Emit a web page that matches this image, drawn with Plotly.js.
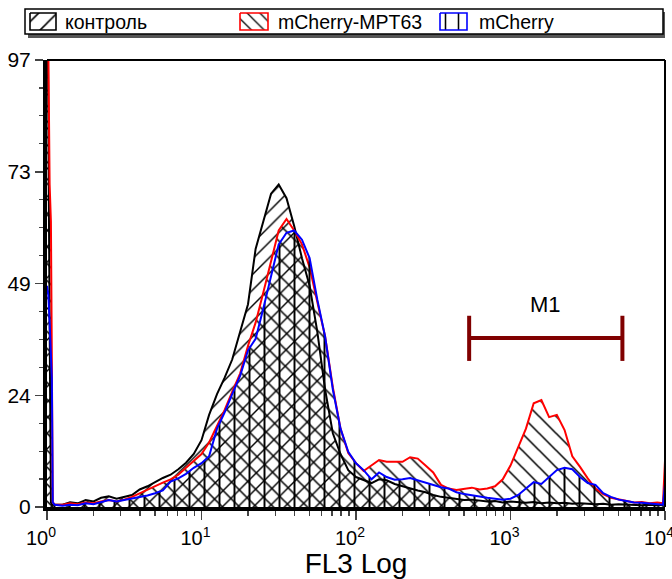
<!DOCTYPE html>
<html><head><meta charset="utf-8">
<script src="https://cdn.plot.ly/plotly-3.0.1.min.js"></script>
<style>html,body{margin:0;padding:0;background:#fff}#chart{width:672px;height:579px}</style>
</head><body><div id="chart"></div>
<script>
// ---- data (channel positions and counts) ----
var channels = [1, 1.02, 1.04, 1.06, 1.075, 1.09, 1.12,
  1.26, 1.41, 1.58, 1.78, 2.0, 2.24, 2.51, 2.82, 3.16, 3.55, 3.98, 4.47, 5.01, 5.62, 6.31, 7.08, 7.94, 8.91,
  10, 11.2, 12.6, 14.1, 15.8, 17.8, 20.0, 22.4, 25.1, 28.2, 31.6, 35.5, 39.8, 44.7, 50.1, 56.2, 63.1, 70.8, 79.4, 89.1,
  100, 112, 126, 141, 158, 178, 200, 224, 251, 282, 316, 355, 398, 447, 501, 562, 631, 708, 794, 891,
  1000, 1122, 1259, 1413, 1585, 1778, 1995, 2239, 2512, 2818, 3162, 3548, 3981, 4467, 5012, 5623, 6310, 7079, 7943, 8913,
  9700, 10000];

var control = [130, 70, 40, 1, 0.5, 0.5, 0.5,
  0.5, 1, 0.8, 1.5, 1.2, 2, 2.3, 1.8, 2.2, 2.6, 3.8, 4.5, 5.4, 6.3, 7, 8.2, 9.6, 11.5,
  14.5, 20, 24.5, 28, 32, 38, 44, 56, 62, 68, 70, 67, 61, 54, 48, 38, 25.5, 16, 11.5, 8,
  6.5, 5.8, 5.2, 6, 5.8, 5, 4.5, 4, 3.6, 3.2, 2.6, 2.2, 2, 1.8, 1.5, 1.6, 1.4, 1.2, 1.3, 1,
  1.2, 1, 0.9, 1.1, 0.8, 1, 0.8, 0.9, 0.7, 0.8, 0.7, 0.6, 0.7, 0.5, 0.6, 0.5, 0.5, 0.4, 0.5, 0.4,
  0.5, 1];

var mpt63 = [130, 97, 70, 62, 30, 1, 0.5,
  0.5, 0.8, 0.6, 1, 0.8, 1.2, 1.5, 1.2, 1.6, 2.2, 3, 3.8, 4.5, 5.3, 6, 7, 8.5, 10,
  11.5, 14, 17.5, 21, 25, 29, 35, 40, 46.5, 53, 60, 62.5, 60, 57, 52, 44.5, 37, 26, 17, 11.7,
  9.5, 7.8, 9, 10.2, 9.8, 9.8, 9.8, 10.8, 10.5, 9, 7.5, 4.8, 4, 3.7, 4, 4.2, 3.8, 4, 4.5, 6,
  9, 13, 17, 22.5, 23.2, 19.5, 20, 16.7, 11, 8.7, 6.2, 4, 2.8, 2, 1.7, 1.4, 1, 1.1, 0.8, 1,
  0.8, 10];

var mcherry = [48, 46, 40, 32, 28, 1, 0.5,
  0.3, 0.5, 0.4, 0.8, 0.6, 1, 1.5, 1.2, 1.5, 1.8, 2.2, 2.5, 3, 3.6, 5.5, 6.2, 7.2, 8.5,
  9.5, 11, 17, 20.5, 24.5, 28.5, 34, 36.5, 43, 50, 57, 59.5, 60, 58, 54, 45, 37, 25.5, 17, 12,
  9.5, 8, 6, 7.5, 6.5, 5.9, 6, 6.3, 5.8, 5.4, 4.8, 4.3, 4, 3.2, 2.8, 2.5, 2.3, 2, 1.8, 1.6,
  1.8, 2.6, 4, 5.4, 5, 6.5, 8, 8.5, 8.2, 6.5, 5.2, 4.8, 3, 2.2, 1.6, 1.3, 1, 0.9, 0.7, 0.6,
  0.5, 5];

var seriesNames = ['контроль', 'mCherry-MPT63', 'mCherry'];
var xTickVals = [1, 10, 100, 1000, 10000];
var xTickText = ['10<sup>0</sup>', '10<sup>1</sup>', '10<sup>2</sup>', '10<sup>3</sup>', '10<sup>4</sup>'];
var yTickVals = [0, 24.25, 48.5, 72.75, 97];
var yTickText = ['0', '24', '49', '73', '97'];
var m1Label = 'M1';
var m1Range = [540, 5300];
var m1Level = 36.7;

// ---- styling ----
var FONT = 'Liberation Sans, Arial, sans-serif';
var colors = ['#000000', '#ff0000', '#0000ff'];
function patt(shape, size, sol) {
  return {shape: shape, fgcolor: '#000', bgcolor: 'rgba(0,0,0,0)', size: size, solidity: sol, fillmode: 'replace'};
}
var patterns = [patt('/', 11, 0.13), patt('\\', 12, 0.13), patt('|', 15, 0.13)];
var ySeries = [control, mpt63, mcherry];

var traces = [];
for (var i = 0; i < 3; i++) {
  traces.push({
    x: channels, y: ySeries[i], type: 'scatter', mode: 'lines', name: seriesNames[i],
    line: {color: colors[i], width: 2}, fill: 'tozeroy', fillcolor: 'rgba(0,0,0,0)',
    fillpattern: patterns[i], xaxis: 'x', yaxis: 'y', hoverinfo: 'skip', showlegend: false
  });
}

// legend swatches drawn in a pixel-unit helper subplot (x2/y2)
var swX = [[30, 56], [240, 268], [440, 467]];
var swY = [13, 30];
var txtX = [63, 276, 477];
var annotations = [];
for (var j = 0; j < 3; j++) {
  traces.push({
    x: [swX[j][0], swX[j][1], swX[j][1], swX[j][0], swX[j][0]],
    y: [swY[0], swY[0], swY[1], swY[1], swY[0]],
    type: 'scatter', mode: 'lines', fill: 'toself', fillcolor: 'rgba(0,0,0,0)',
    fillpattern: j === 0 ? patt('/', 13, 0.12) : (j === 1 ? patt('\\', 9, 0.14) : patt('|', 13, 0.12)),
    line: {color: j === 0 ? '#000' : colors[j], width: 1.6},
    xaxis: 'x2', yaxis: 'y2', hoverinfo: 'skip', showlegend: false
  });
  annotations.push({xref: 'x2', yref: 'y2', x: txtX[j], y: 22, xanchor: 'left', yanchor: 'middle',
    text: seriesNames[j], showarrow: false, font: {family: FONT, size: 19.5, color: '#000'}});
}

annotations.push({xref: 'x', yref: 'y', x: (Math.log10(m1Range[0]) + Math.log10(m1Range[1])) / 2, y: m1Level + 4.2,
  text: m1Label, showarrow: false, yanchor: 'bottom', font: {family: FONT, size: 22, color: '#000'}});

var minorX = [];
[1, 10, 100, 1000].forEach(function (d) { for (var k = 2; k <= 9; k++) minorX.push(d * k); });
var minorY = [];
for (var q = 1; q < 16; q++) { if (q % 4 !== 0) minorY.push(q * 97 / 16); }

var shapes = [
  // top & right frame of plot area
  {type: 'line', xref: 'x domain', yref: 'y domain', x0: 0, x1: 1, y0: 1, y1: 1, line: {color: '#000', width: 2}},
  {type: 'line', xref: 'x domain', yref: 'y domain', x0: 1, x1: 1, y0: 0, y1: 1, line: {color: '#000', width: 2}},
  // M1 marker
  {type: 'line', xref: 'x', yref: 'y', x0: m1Range[0], x1: m1Range[1], y0: m1Level, y1: m1Level, line: {color: '#800000', width: 4}},
  {type: 'line', xref: 'x', yref: 'y', x0: m1Range[0], x1: m1Range[0], y0: m1Level - 5, y1: m1Level + 4.8, line: {color: '#800000', width: 4}},
  {type: 'line', xref: 'x', yref: 'y', x0: m1Range[1], x1: m1Range[1], y0: m1Level - 5, y1: m1Level + 4.8, line: {color: '#800000', width: 4}},
  // legend frame + shadow
  {type: 'rect', xref: 'x2', yref: 'y2', x0: 663, x1: 667, y0: 12, y1: 38, line: {width: 0}, fillcolor: '#555'},
  {type: 'rect', xref: 'x2', yref: 'y2', x0: 28, x1: 667, y0: 34, y1: 38, line: {width: 0}, fillcolor: '#555'},
  {type: 'rect', xref: 'x2', yref: 'y2', x0: 25, x1: 663, y0: 9, y1: 34, line: {color: '#000', width: 1.5}, fillcolor: 'rgba(0,0,0,0)'}
];

var layout = {
  width: 672, height: 579,
  margin: {l: 10, r: 7, t: 5, b: 72, pad: 0},
  paper_bgcolor: '#fff', plot_bgcolor: 'rgba(0,0,0,0)',
  font: {family: FONT, color: '#000'},
  showlegend: false,
  xaxis: {
    type: 'log', range: [0, 4], domain: [37 / 655, 1], anchor: 'y',
    showgrid: false, zeroline: false, showline: true, linecolor: '#000', linewidth: 4,
    ticks: 'outside', ticklen: 9, tickwidth: 1.5, tickcolor: '#444',
    tickvals: xTickVals, ticktext: xTickText, tickfont: {family: FONT, size: 20, color: '#000'},
    ticklabelshift: -6, ticklabelstandoff: 1, ticklabeloverflow: 'allow',
    minor: {tickvals: minorX, ticks: 'outside', ticklen: 5, tickwidth: 1.2, tickcolor: '#444', showgrid: false},
    title: {text: 'FL3 Log', font: {family: FONT, size: 28, color: '#000'}, standoff: 15},
    fixedrange: true
  },
  yaxis: {
    range: [0, 97], domain: [0, 447 / 502], anchor: 'x',
    showgrid: false, zeroline: false, showline: true, linecolor: '#000', linewidth: 4,
    ticks: 'outside', ticklen: 8, tickwidth: 1.5, tickcolor: '#444',
    tickvals: yTickVals, ticktext: yTickText, tickfont: {family: FONT, size: 21, color: '#000'},
    ticklabeloverflow: 'allow',
    minor: {tickvals: minorY, ticks: 'outside', ticklen: 4, tickwidth: 1.2, tickcolor: '#444', showgrid: false},
    fixedrange: true
  },
  xaxis2: {domain: [0, 1], range: [10, 665], anchor: 'y2', visible: false, fixedrange: true},
  yaxis2: {domain: [0, 1], range: [507, 5], anchor: 'x2', visible: false, fixedrange: true},
  shapes: shapes,
  annotations: annotations
};

Plotly.newPlot('chart', traces, layout, {staticPlot: true, displayModeBar: false});
</script>
</body></html>
